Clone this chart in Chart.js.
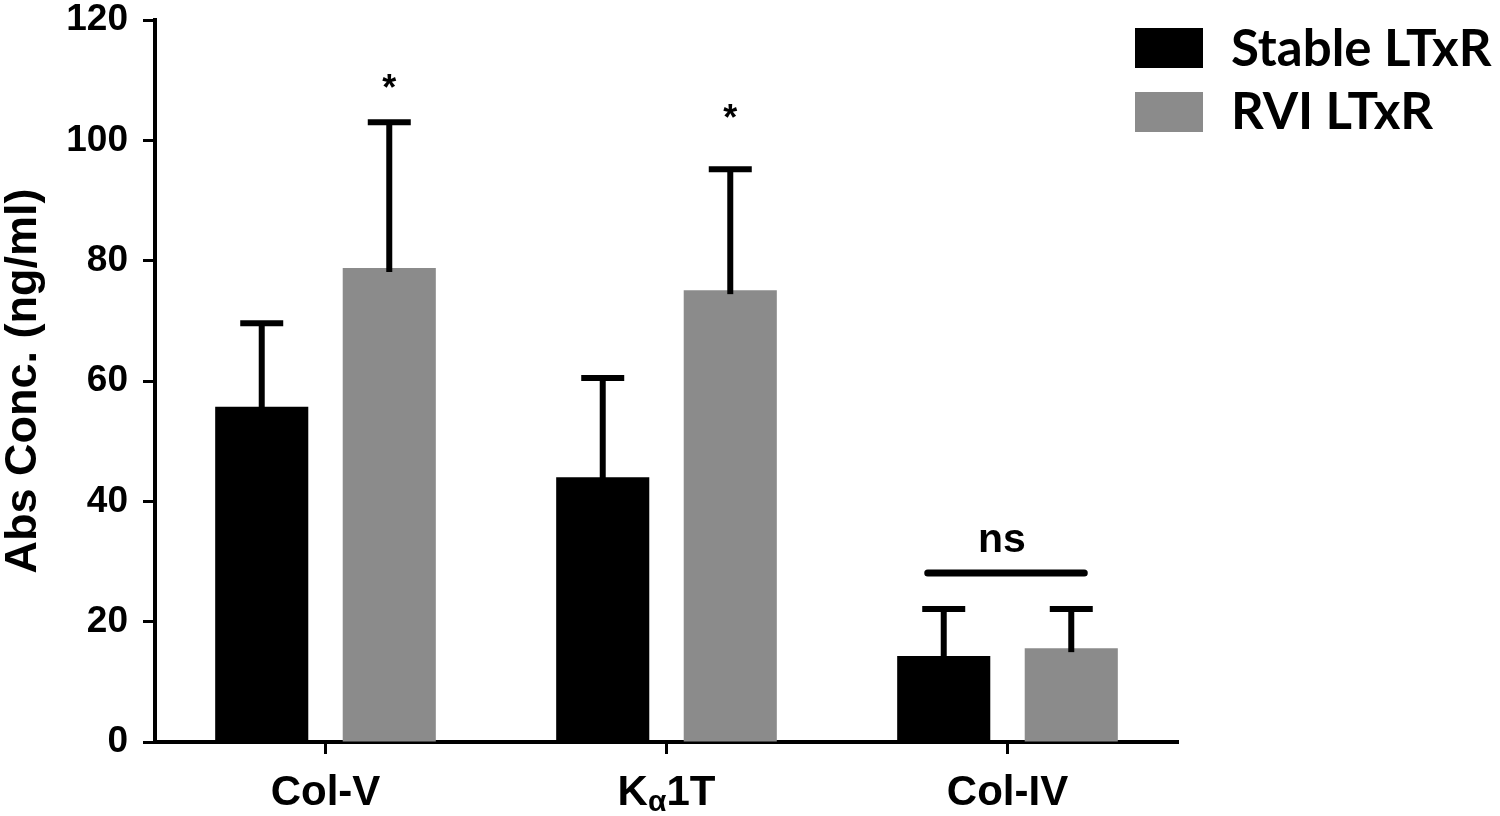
<!DOCTYPE html>
<html>
<head>
<meta charset="utf-8">
<script src="https://cdn.jsdelivr.net/npm/chart.js@4.4.1/dist/chart.umd.min.js"></script>
<style>
  html, body { margin: 0; padding: 0; background: #ffffff; }
  #wrap { width: 1500px; height: 816px; position: relative; }
</style>
</head>
<body>
<div id="wrap"><canvas id="c"></canvas></div>
<script>
// ---- data ----
const categories = ['Col-V', 'Kα1T', 'Col-IV'];
const seriesNames = ['Stable LTxR', 'RVI LTxR'];
const stableValues = [55.7, 44.0, 14.3];
const stableErrors = [13.9, 16.5, 7.8];
const rviValues = [78.8, 75.1, 15.6];
const rviErrors = [24.2, 20.1, 6.5];
const yTicks = [0, 20, 40, 60, 80, 100, 120];
// significance marks: label and the value height where the label sits
const sigLabels = ['*', '*', 'ns'];
const sigLevels = [109.7, 104.7, 31.6];
const nsLineLevel = 28.1;

const BLACK = '#000000';
const GRAY = '#8b8b8b';
const AXIS_FONT = '"Liberation Sans", Arial, sans-serif';

const whiteBg = {
  id: 'whiteBg',
  beforeDraw(chart) {
    const ctx = chart.ctx;
    ctx.save();
    ctx.fillStyle = '#ffffff';
    ctx.fillRect(0, 0, chart.width, chart.height);
    ctx.restore();
  }
};

const errorBars = {
  id: 'errorBars',
  afterDatasetsDraw(chart) {
    const ctx = chart.ctx;
    const y = chart.scales.y;
    const errs = [stableErrors, rviErrors];
    ctx.save();
    ctx.strokeStyle = BLACK;
    ctx.lineWidth = 6;
    ctx.lineCap = 'butt';
    chart.data.datasets.forEach((ds, di) => {
      const meta = chart.getDatasetMeta(di);
      meta.data.forEach((bar, i) => {
        const v = ds.data[i];
        const top = y.getPixelForValue(v + errs[di][i]);
        ctx.beginPath();
        ctx.moveTo(bar.x, bar.y + 4);
        ctx.lineTo(bar.x, top);
        ctx.stroke();
        ctx.beginPath();
        ctx.moveTo(bar.x - 21.5, top);
        ctx.lineTo(bar.x + 21.5, top);
        ctx.stroke();
      });
    });
    ctx.restore();
  }
};

const annotations = {
  id: 'annotations',
  afterDraw(chart) {
    const ctx = chart.ctx;
    const x = chart.scales.x;
    const y = chart.scales.y;
    const m0 = chart.getDatasetMeta(0);
    const m1 = chart.getDatasetMeta(1);
    ctx.save();
    ctx.fillStyle = BLACK;
    ctx.textAlign = 'center';
    for (let i = 0; i < sigLabels.length; i++) {
      const lab = sigLabels[i];
      if (lab === 'ns') {
        const x0 = m0.data[i].x - 16;
        const x1 = m1.data[i].x + 13;
        const ly = y.getPixelForValue(nsLineLevel);
        ctx.strokeStyle = BLACK;
        ctx.lineWidth = 7;
        ctx.lineCap = 'round';
        ctx.beginPath();
        ctx.moveTo(x0, ly);
        ctx.lineTo(x1, ly);
        ctx.stroke();
        ctx.font = 'bold 41px ' + AXIS_FONT;
        ctx.textBaseline = 'alphabetic';
        ctx.fillText(lab, (x0 + x1) / 2 - 4, y.getPixelForValue(sigLevels[i]));
      } else {
        ctx.font = 'bold 36px ' + AXIS_FONT;
        ctx.textBaseline = 'middle';
        ctx.fillText(lab, m1.data[i].x, y.getPixelForValue(sigLevels[i]) + 8);
      }
    }
    // x category labels (with subscript alpha)
    const baseY = 805;
    ctx.textBaseline = 'alphabetic';
    ctx.textAlign = 'left';
    categories.forEach((lab, i) => {
      const cx = x.getPixelForTick(i);
      const parts = [];
      const idx = lab.indexOf('α');
      if (idx >= 0) {
        parts.push({ t: lab.slice(0, idx), size: 42, dy: 0 });
        parts.push({ t: 'α', size: 30, dy: 6 });
        parts.push({ t: lab.slice(idx + 1), size: 42, dy: 0 });
      } else {
        parts.push({ t: lab, size: 42, dy: 0 });
      }
      let total = 0;
      parts.forEach(p => {
        ctx.font = 'bold ' + p.size + 'px ' + AXIS_FONT;
        p.w = ctx.measureText(p.t).width;
        total += p.w;
      });
      let px = cx - total / 2;
      parts.forEach(p => {
        ctx.font = 'bold ' + p.size + 'px ' + AXIS_FONT;
        ctx.fillText(p.t, px, baseY + p.dy);
        px += p.w;
      });
    });
    // legend
    const boxes = [[1135, 28], [1135, 92]];
    const bases = [66, 129];
    ctx.font = 'bold 51px Lato, "Open Sans", sans-serif';
    chart.data.datasets.forEach((ds, i) => {
      ctx.fillStyle = ds.backgroundColor;
      ctx.fillRect(boxes[i][0], boxes[i][1], 68, 40);
      ctx.fillStyle = BLACK;
      ctx.fillText(ds.label, 1231, bases[i]);
    });
    ctx.restore();
  }
};

new Chart(document.getElementById('c'), {
  type: 'bar',
  data: {
    labels: categories,
    datasets: [
      { label: seriesNames[0], data: stableValues, backgroundColor: BLACK, borderWidth: 0 },
      { label: seriesNames[1], data: rviValues, backgroundColor: GRAY, borderWidth: 0 }
    ]
  },
  options: {
    responsive: true,
    maintainAspectRatio: false,
    animation: false,
    devicePixelRatio: 1,
    layout: { padding: { top: 20, right: 322, left: 0, bottom: 0 } },
    categoryPercentage: 0.748,
    barPercentage: 0.73,
    plugins: {
      legend: { display: false },
      tooltip: { enabled: false },
      title: { display: false }
    },
    scales: {
      x: {
        offset: true,
        grid: {
          offset: false,
          drawOnChartArea: false,
          drawTicks: true,
          tickLength: 12,
          tickWidth: 3,
          tickColor: BLACK
        },
        border: { display: true, color: BLACK, width: 4 },
        ticks: { display: false },
        afterFit(scale) { scale.height = 74; scale.paddingLeft = 0; scale.paddingRight = 0; }
      },
      y: {
        min: 0,
        max: 120,
        afterBuildTicks(scale) { scale.ticks = yTicks.map(v => ({ value: v })); },
        grid: {
          drawOnChartArea: false,
          drawTicks: true,
          tickLength: 12,
          tickWidth: 3,
          tickColor: BLACK
        },
        border: { display: true, color: BLACK, width: 4 },
        ticks: {
          color: BLACK,
          padding: 15,
          font: { family: AXIS_FONT, size: 37, weight: 'bold', lineHeight: 1 }
        },
        title: {
          display: true,
          text: 'Abs Conc. (ng/ml)',
          color: BLACK,
          padding: 0,
          font: { family: AXIS_FONT, size: 45, weight: 'bold', lineHeight: 1.05 }
        },
        afterFit(scale) { scale.width = 155; scale.paddingTop = 0; scale.paddingBottom = 0; }
      }
    }
  },
  plugins: [whiteBg, errorBars, annotations]
});
</script>
</body>
</html>
